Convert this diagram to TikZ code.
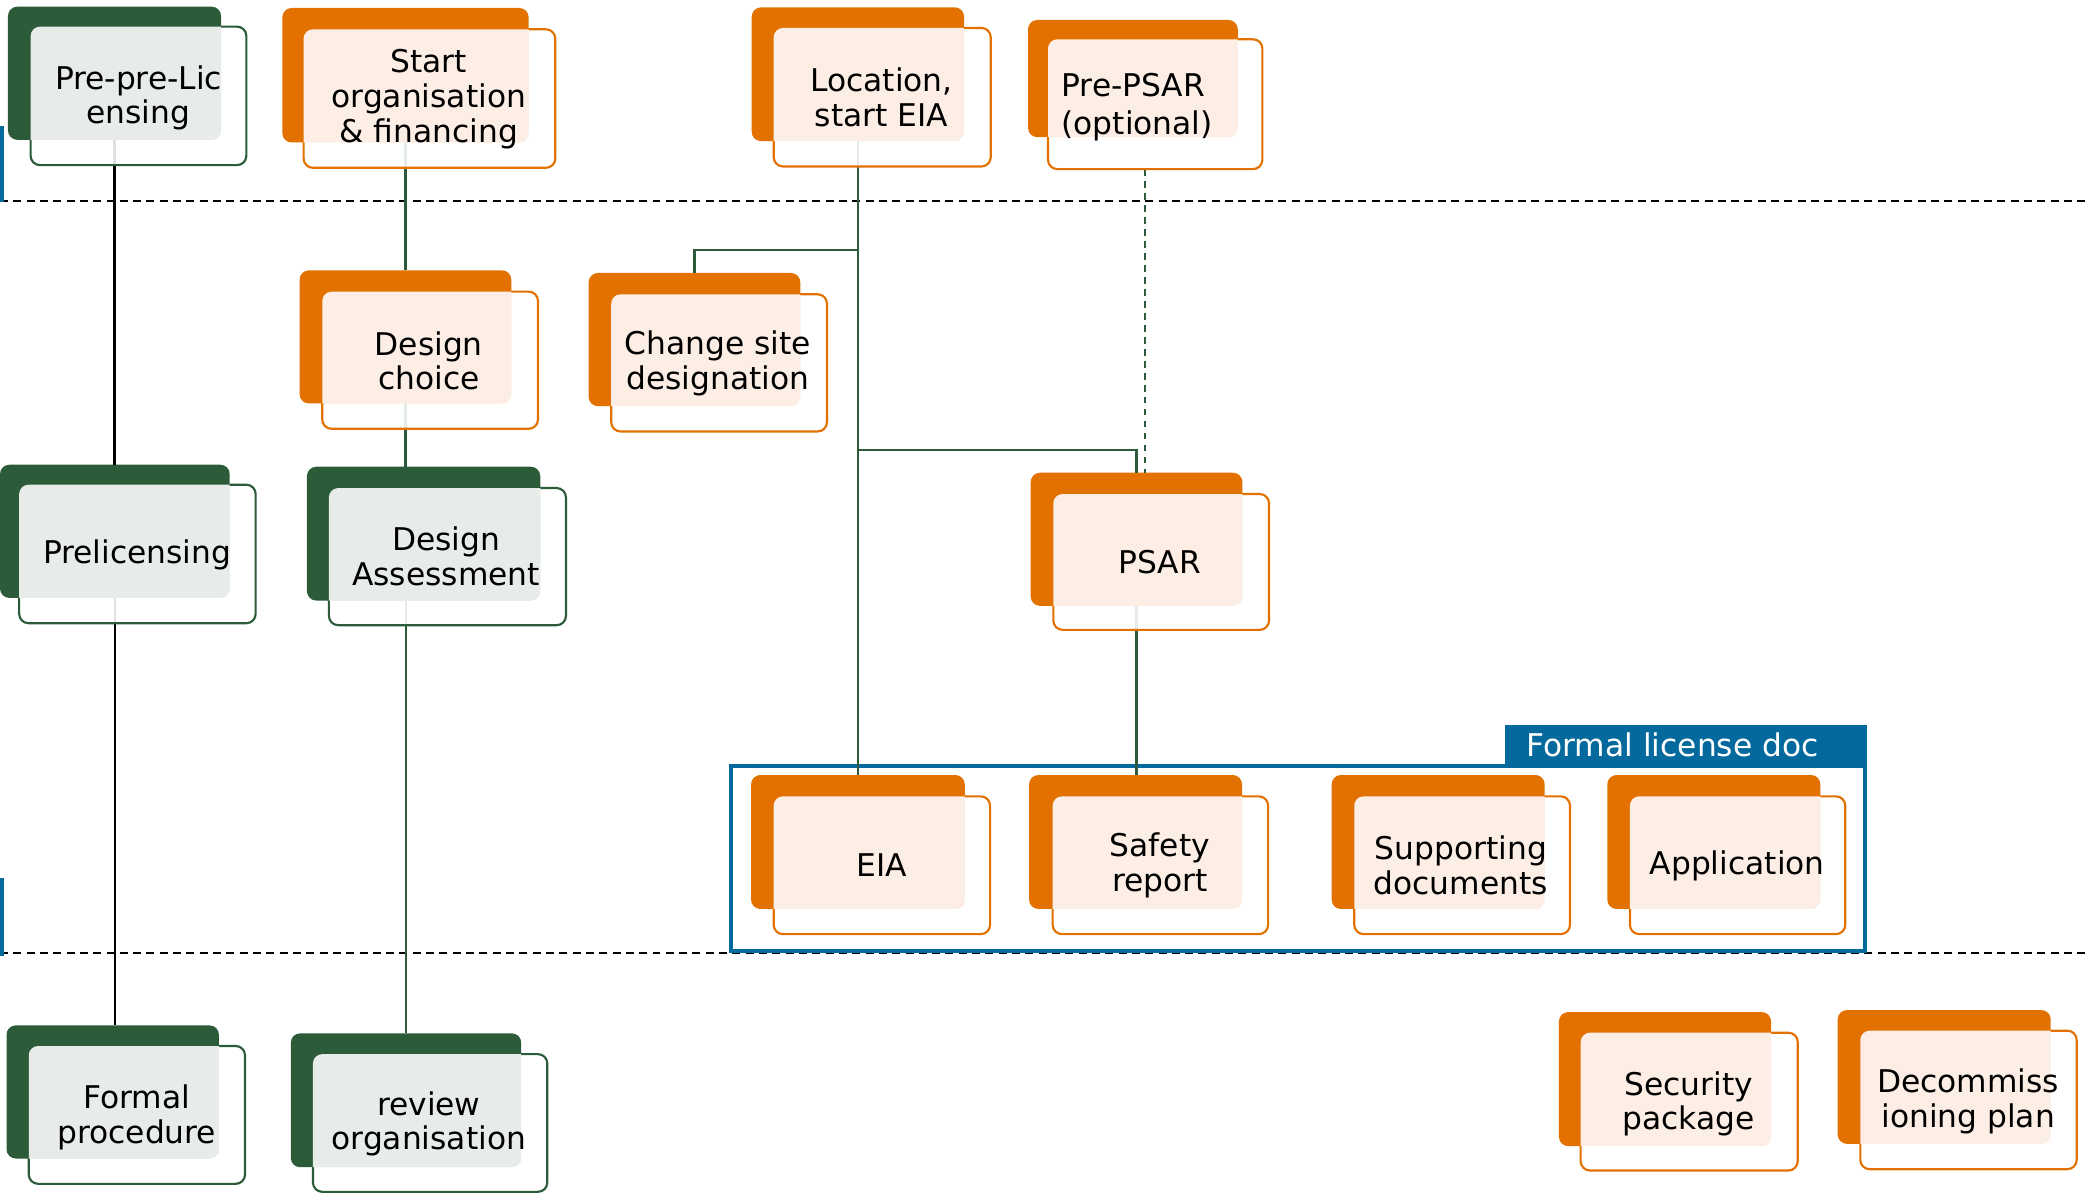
\documentclass[tikz,border=0pt]{standalone}
\usepackage{fontspec}
\setmainfont{DejaVu Sans}
\usetikzlibrary{fit}
\definecolor{dkgreen}{HTML}{2B5B38}
\definecolor{orng}{HTML}{E27100}
\definecolor{gtint}{HTML}{E8ECE9}
\definecolor{otint}{HTML}{FCEEE4}
\definecolor{blu}{HTML}{04699C}
\tikzset{
  txt/.style={align=center, font=\fontsize{23.5}{26}\selectfont, inner sep=0},
  frame/.style={inner sep=0, outer sep=0},
  conK/.style={draw=black, line width=1.7pt},
  conG/.style={draw=dkgreen, line width=1.7pt},
  conGd/.style={draw=dkgreen, line width=1.3pt, dash pattern=on 5pt off 4pt},
  sep/.style={draw=black, line width=1.5pt, dash pattern=on 6pt off 4pt},
}
\newcommand\defbox[5]{%
  \node[frame, fit={#2 #3}] (#1b) {};
  \node[frame, fit={#4 #5}] (#1) {};
}
\newcommand\drawback[2]{\fill[#2, rounded corners=7pt] (#1b.south west) rectangle (#1b.north east);}
\newcommand\drawfront[3]{%
  \filldraw[fill=white, fill opacity=0.88, draw=#2, line width=1.6pt, rounded corners=7pt]
    (#1.south west) rectangle (#1.north east);
  \begin{scope}
    \clip[rounded corners=7pt] (#1.south west) rectangle (#1.north east);
    \fill[#3, rounded corners=7pt] (#1b.south west) rectangle (#1b.north east);
  \end{scope}}
\begin{document}
\begin{tikzpicture}[x=1pt,y=-1pt]
\useasboundingbox (0,0) rectangle (1568,899);
% separators
\draw[sep] (0,151) -- (1568,151);
\draw[sep] (0,716) -- (1568,716);
\fill[blu] (0,94.6) rectangle (3,151.5);
\fill[blu] (0,659.5) rectangle (3,718);
% formal license frame
\node[frame, draw=blu, line width=3pt, fit={(549,575) (1400.6,714)}] (fld) {};
\node[frame, fill=blu, fit={(1130,544.5) (1402,575)}] (fldlab) {};
\node[txt, text=white] (fldt) at (1256,559.5) {Formal license doc};
% box geometry
\defbox{A}{(6,5)}{(166,105)}{(23,20)}{(185,124)}
\defbox{B}{(212,6)}{(397,107)}{(228,22)}{(417,126)}
\defbox{C}{(564.5,5.5)}{(724,106)}{(581,21)}{(744,125)}
\defbox{D}{(772,15)}{(929.5,103)}{(787,29.5)}{(948,127)}
\defbox{E}{(225,203)}{(384,303)}{(242,219)}{(404,322)}
\defbox{F}{(442,205)}{(601,305)}{(459,221)}{(621,324)}
\defbox{G}{(0,349)}{(172.5,449)}{(14.4,364)}{(192,468)}
\defbox{H}{(230.5,350.5)}{(405.7,451)}{(247,366.5)}{(425,469.5)}
\defbox{I}{(774,355)}{(933,455)}{(791,371)}{(953,473)}
\defbox{J}{(564,582)}{(724.5,682.6)}{(581,598)}{(743.5,701.5)}
\defbox{K}{(772.8,582)}{(932.7,682.6)}{(790.5,598)}{(952.3,701.5)}
\defbox{L}{(1000,582)}{(1160,682.6)}{(1017,598)}{(1179,701.5)}
\defbox{M}{(1207,582)}{(1367,682.6)}{(1224,598)}{(1385.7,701.5)}
\defbox{N}{(1170.7,760)}{(1330,860.7)}{(1187,775.5)}{(1350,879)}
\defbox{O}{(1380,758.5)}{(1540,859)}{(1397,774)}{(1559.5,878)}
\defbox{P}{(4.9,770)}{(164.4,870)}{(21.6,785.5)}{(184,889)}
\defbox{Q}{(218.4,776)}{(391.4,876.5)}{(235,791.6)}{(411,895)}
% back rectangles
\drawback{A}{dkgreen}\drawback{G}{dkgreen}\drawback{H}{dkgreen}
\drawback{P}{dkgreen}\drawback{Q}{dkgreen}
\drawback{B}{orng}\drawback{C}{orng}\drawback{D}{orng}\drawback{E}{orng}
\drawback{F}{orng}\drawback{I}{orng}\drawback{J}{orng}\drawback{K}{orng}
\drawback{L}{orng}\drawback{M}{orng}\drawback{N}{orng}\drawback{O}{orng}
% connectors
\coordinate (br1) at (644.25,188);
\coordinate (br2) at (644.25,338);
\coordinate (dtop) at (860,127);
\draw[conK] (Ab.south) -- (Ab.south |- Gb.north);
\draw[conK] (Gb.south) -- (Gb.south |- Pb.north);
\draw[conG] (Bb.south) -- (Bb.south |- Eb.north);
\draw[conG] (Eb.south) -- (Eb.south |- Hb.north);
\draw[conG] (Qb.north |- Hb.south) -- (Qb.north);
\draw[conG] (Cb.south) -- (Cb.south |- Jb.north);
\draw[conG] (br1) -| (Fb.north);
\draw[conG] (br2) -| (Ib.north);
\draw[conGd] (dtop) -- (dtop |- Ib.north);
\draw[conG] (Ib.south) -- (Ib.south |- Kb.north);
% front rectangles
\drawfront{A}{dkgreen}{gtint}\drawfront{G}{dkgreen}{gtint}\drawfront{H}{dkgreen}{gtint}
\drawfront{P}{dkgreen}{gtint}\drawfront{Q}{dkgreen}{gtint}
\drawfront{B}{orng}{otint}\drawfront{C}{orng}{otint}\drawfront{D}{orng}{otint}
\drawfront{E}{orng}{otint}\drawfront{F}{orng}{otint}\drawfront{I}{orng}{otint}
\drawfront{J}{orng}{otint}\drawfront{K}{orng}{otint}\drawfront{L}{orng}{otint}
\drawfront{M}{orng}{otint}\drawfront{N}{orng}{otint}\drawfront{O}{orng}{otint}
% texts
\node[txt] (At) at (104,73.5) {Pre-pre-Lic\\ensing};
\node[txt] (Bt) at (322,74.5) {Start\\organisation\\\& financing};
\node[txt] (Ct) at (662,73) {Location,\\start EIA};
\node[txt, align=left, anchor=west] (Dt) at (797,80.5) {Pre-PSAR\\[3pt](optional)};
\node[txt] (Et) at (322,271) {Design\\choice};
\node[txt] (Ft) at (539,273) {Change site\\designation};
\node[txt] (Gt) at (103,417) {Prelicensing};
\node[txt] (Ht) at (335,418) {Design\\Assessment};
\node[txt] (It) at (871,422) {PSAR};
\node[txt] (Jt) at (662,650) {EIA};
\node[txt] (Kt) at (871,650) {Safety\\report};
\node[txt] (Lt) at (1097,650) {Supporting\\documents};
\node[txt] (Mt) at (1304.6,650) {Application};
\node[txt] (Nt) at (1268,829) {Security\\package};
\node[txt] (Ot) at (1478,827) {Decommiss\\ioning plan};
\node[txt] (Pt) at (102.7,839) {Formal\\procedure};
\node[txt] (Qt) at (322,844) {review\\organisation};
\end{tikzpicture}
\end{document}
